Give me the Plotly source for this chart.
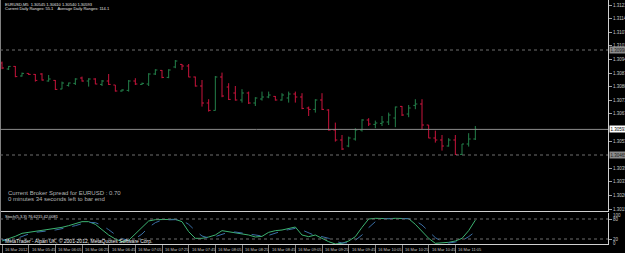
import plotly.graph_objects as go

# ---------------- data ----------------
symbol = "EURUSD,M5"
time_labels = ["16 Mar 2012", "16 Mar 05:45", "16 Mar 06:05", "16 Mar 06:25", "16 Mar 06:45",
               "16 Mar 07:05", "16 Mar 07:25", "16 Mar 07:45", "16 Mar 08:05", "16 Mar 08:25",
               "16 Mar 08:45", "16 Mar 09:05", "16 Mar 09:25", "16 Mar 09:45", "16 Mar 10:05",
               "16 Mar 10:25", "16 Mar 10:45", "16 Mar 11:05"]
bars_per_label = 4

opens = [1.30925, 1.30895, 1.30908, 1.30860, 1.30873, 1.30868, 1.30870, 1.30835, 1.30838, 1.30795,
         1.30813, 1.30823, 1.30850, 1.30835, 1.30845, 1.30818, 1.30835, 1.30815, 1.30785, 1.30788,
         1.30835, 1.30818, 1.30820, 1.30870, 1.30888, 1.30853, 1.30905, 1.30918, 1.30910, 1.30855,
         1.30810, 1.30725, 1.30688, 1.30855, 1.30805, 1.30775, 1.30740, 1.30775, 1.30725, 1.30745,
         1.30755, 1.30758, 1.30740, 1.30750, 1.30770, 1.30755, 1.30700, 1.30693, 1.30740, 1.30690,
         1.30590, 1.30540, 1.30510, 1.30545, 1.30590, 1.30640, 1.30618, 1.30623, 1.30630, 1.30650,
         1.30708, 1.30670, 1.30713, 1.30720, 1.30615, 1.30550, 1.30540, 1.30510, 1.30540, 1.30468,
         1.30520, 1.30545]
highs = [1.30932, 1.30910, 1.30910, 1.30877, 1.30874, 1.30870, 1.30874, 1.30865, 1.30840, 1.30832,
         1.30827, 1.30849, 1.30857, 1.30849, 1.30849, 1.30840, 1.30870, 1.30815, 1.30794, 1.30840,
         1.30849, 1.30827, 1.30874, 1.30894, 1.30890, 1.30894, 1.30940, 1.30920, 1.30920, 1.30857,
         1.30840, 1.30744, 1.30860, 1.30877, 1.30824, 1.30810, 1.30794, 1.30782, 1.30754, 1.30782,
         1.30782, 1.30760, 1.30774, 1.30782, 1.30782, 1.30774, 1.30707, 1.30744, 1.30774, 1.30694,
         1.30627, 1.30565, 1.30557, 1.30599, 1.30644, 1.30649, 1.30637, 1.30660, 1.30677, 1.30707,
         1.30710, 1.30715, 1.30744, 1.30744, 1.30615, 1.30587, 1.30565, 1.30549, 1.30565, 1.30520,
         1.30574, 1.30610]
lows = [1.30894, 1.30890, 1.30854, 1.30857, 1.30865, 1.30832, 1.30837, 1.30832, 1.30790, 1.30794,
        1.30807, 1.30815, 1.30832, 1.30807, 1.30819, 1.30810, 1.30815, 1.30782, 1.30782, 1.30782,
        1.30815, 1.30815, 1.30810, 1.30865, 1.30849, 1.30849, 1.30899, 1.30890, 1.30854, 1.30807,
        1.30707, 1.30682, 1.30687, 1.30754, 1.30740, 1.30737, 1.30727, 1.30720, 1.30710, 1.30737,
        1.30749, 1.30737, 1.30737, 1.30727, 1.30727, 1.30694, 1.30660, 1.30677, 1.30690, 1.30587,
        1.30532, 1.30490, 1.30504, 1.30537, 1.30582, 1.30610, 1.30599, 1.30610, 1.30615, 1.30604,
        1.30660, 1.30654, 1.30694, 1.30594, 1.30549, 1.30527, 1.30487, 1.30507, 1.30465, 1.30465,
        1.30507, 1.30540]
closes = [1.30900, 1.30908, 1.30857, 1.30873, 1.30868, 1.30838, 1.30840, 1.30845, 1.30793, 1.30825,
          1.30825, 1.30845, 1.30835, 1.30845, 1.30820, 1.30835, 1.30818, 1.30785, 1.30790, 1.30835,
          1.30820, 1.30823, 1.30870, 1.30890, 1.30853, 1.30890, 1.30935, 1.30910, 1.30855, 1.30810,
          1.30725, 1.30688, 1.30855, 1.30760, 1.30743, 1.30740, 1.30775, 1.30725, 1.30750, 1.30755,
          1.30765, 1.30740, 1.30765, 1.30770, 1.30755, 1.30698, 1.30693, 1.30740, 1.30693, 1.30590,
          1.30540, 1.30495, 1.30550, 1.30590, 1.30640, 1.30620, 1.30625, 1.30630, 1.30665, 1.30705,
          1.30665, 1.30700, 1.30720, 1.30615, 1.30550, 1.30540, 1.30510, 1.30540, 1.30468, 1.30520,
          1.30545, 1.30593]

stoch_main = [14, 20, 28, 37, 40, 42, 45, 47, 50, 55, 60, 66, 72, 72, 64, 48, 32, 20, 12, 16,
              35, 55, 74, 78, 78, 78, 79, 72, 42, 22, 22, 26, 32, 45, 42, 37, 35, 32, 26, 28,
              40, 45, 47, 52, 56, 32, 27, 32, 22, 12, 5, 7, 14, 27, 55, 80, 82, 81, 81, 82,
              81, 81, 64, 42, 22, 7, 8, 10, 14, 22, 45, 76.6215]
stoch_signal = [18, 16, 20, 28, 35, 40, 42, 45, 47, 51, 55, 60, 66, 70, 69, 61, 48, 33, 21, 16,
                21, 35, 55, 69, 77, 78, 78, 76, 64, 45, 29, 23, 27, 34, 40, 41, 38, 35, 31, 29,
                31, 38, 44, 48, 52, 47, 38, 30, 27, 22, 13, 8, 9, 16, 32, 54, 72, 81, 81, 81,
                81, 81, 75, 62, 43, 24, 12, 8, 11, 15, 27, 42.0081]
stoch_levels = [80, 20]

day_levels = [1.30990, 1.30465]
price_ticks = [1.31215, 1.31147, 1.31079, 1.31011, 1.30943, 1.30875, 1.30807, 1.30739, 1.30671,
               1.30535, 1.30399, 1.30331, 1.30263, 1.30195]
spread = "0.70"
daily_range, avg_range = "55.1", "114.1"

# ---------------- figure ----------------
W, H = 625, 253
idx = list(range(len(opens)))
XR = [-0.3, 90.9]
XD = [0, 608 / W]

RED = "#c8143c"
GREEN = "#23804a"
TXT = "#c8c8c8"
FONT = "Liberation Sans"

fig = go.Figure()
fig.add_trace(go.Ohlc(x=idx, open=opens, high=highs, low=lows, close=closes,
                      xaxis="x", yaxis="y", hoverinfo="skip", tickwidth=0.3,
                      increasing=dict(line=dict(color=GREEN, width=1)),
                      decreasing=dict(line=dict(color=RED, width=1))))
fig.add_trace(go.Scatter(x=idx, y=stoch_main, xaxis="x2", yaxis="y2", mode="lines",
                         line=dict(color="#3cb371", width=1), hoverinfo="skip"))
fig.add_trace(go.Scatter(x=idx, y=stoch_signal, xaxis="x2", yaxis="y2", mode="lines",
                         line=dict(color="#3a6ea5", width=1, dash="dash"), hoverinfo="skip"))

axis_common = dict(showgrid=False, zeroline=False, automargin=False)
fig.update_layout(
    template="none", width=W, height=H, margin=dict(l=0, r=0, t=0, b=0),
    paper_bgcolor="#000000", plot_bgcolor="#000000", showlegend=False, hovermode=False,
    xaxis=dict(domain=XD, range=XR, anchor="y", showticklabels=False, ticks="",
               showline=True, linecolor="#d0d0d0", linewidth=1,
               rangeslider=dict(visible=False), **axis_common),
    yaxis=dict(domain=[1 - 211 / H, 1], range=[1.30185, 1.31240], anchor="x", side="right",
               tickvals=price_ticks, ticktext=[f"{v:.5f}" for v in price_ticks],
               ticks="outside", ticklen=3, tickcolor="#a0a0a0",
               tickfont=dict(family=FONT, size=4.5, color=TXT),
               showline=True, linecolor="#d0d0d0", linewidth=1, **axis_common),
    xaxis2=dict(domain=XD, range=XR, anchor="y2", showticklabels=False,
                tickvals=[i * bars_per_label for i in range(len(time_labels))],
                ticks="outside", ticklen=8, tickcolor="#808080",
                showline=True, linecolor="#d0d0d0", linewidth=1, **axis_common),
    yaxis2=dict(domain=[1 - 244 / H, 1 - 213 / H], range=[5, 98], anchor="x2", side="right",
                tickvals=stoch_levels, ticktext=[str(v) for v in stoch_levels],
                ticks="outside", ticklen=3, tickcolor="#a0a0a0",
                tickfont=dict(family=FONT, size=4.5, color=TXT),
                showline=True, linecolor="#d0d0d0", linewidth=1, **axis_common),
)

shapes = []
# left frame line
shapes.append(dict(type="line", xref="paper", yref="paper", x0=0.5 / W, x1=0.5 / W,
                   y0=1 - 244 / H, y1=1, line=dict(color="#808080", width=1)))
# bid line
shapes.append(dict(type="line", xref="x", yref="y", x0=XR[0], x1=XR[1],
                   y0=closes[-1], y1=closes[-1], line=dict(color="#8c8c8c", width=1)))
for lv in day_levels:
    shapes.append(dict(type="line", xref="x", yref="y", x0=XR[0], x1=XR[1], y0=lv, y1=lv,
                       line=dict(color="#6e6e6e", width=1, dash="dot")))
for lv in stoch_levels:
    shapes.append(dict(type="line", xref="x2", yref="y2", x0=XR[0], x1=XR[1], y0=lv, y1=lv,
                       line=dict(color="#6e6e6e", width=1, dash="dot")))
fig.update_layout(shapes=shapes)

ann = []
def txt(x, y, s, size, color=TXT, **kw):
    ann.append(dict(xref="paper", yref="paper", x=x / W, y=1 - y / H, text=s, showarrow=False,
                    xanchor="left", yanchor="middle",
                    font=dict(family=FONT, size=size, color=color), **kw))

txt(3, 4, f"{symbol}  {opens[-1]:.5f} {highs[-1]:.5f} {lows[-1]:.5f} {closes[-1]:.5f}", 4, "#e0e0e0")
txt(3, 8.5, f"Current Daily Ranges: {daily_range}    Average Daily Ranges: {avg_range}", 4, "#e0e0e0")
txt(6, 193, f"Current Broker Spread for EURUSD : {spread}", 6, "#b4b4b4")
txt(6, 199, "0 minutes 34 seconds left to bar end", 6, "#b4b4b4")
txt(3, 216.5, f"Stoch(5,3,3) {stoch_main[-1]:.4f} {stoch_signal[-1]:.4f}", 4, "#e0e0e0")
txt(3, 241, "MetaTrader - Alpari UK, © 2001-2012, MetaQuotes Software Corp.", 5, "#f0f0f0")
txt(611, 215.5, "100", 4.5)
txt(611, 243, "0", 4.5)

for i, lab in enumerate(time_labels):
    ann.append(dict(xref="x2", yref="paper", x=i * bars_per_label, y=1 - 249 / H, text=lab,
                    showarrow=False, xanchor="left", yanchor="middle", xshift=1,
                    font=dict(family=FONT, size=4, color=TXT)))

# price boxes on the axis
ann.append(dict(xref="paper", yref="y", x=609 / W, y=closes[-1], text=f"{closes[-1]:.5f}",
                showarrow=False, xanchor="left", yanchor="middle", bgcolor="#ffffff",
                borderpad=0.5, font=dict(family=FONT, size=4.5, color="#000000")))
for lv in day_levels:
    ann.append(dict(xref="paper", yref="y", x=609 / W, y=lv, text=f"{lv:.5f}",
                    showarrow=False, xanchor="left", yanchor="middle", bgcolor="#8c8c8c",
                    borderpad=0.5, font=dict(family=FONT, size=4.5, color="#202020")))
fig.update_layout(annotations=ann)

fig.write_html("out.html")
